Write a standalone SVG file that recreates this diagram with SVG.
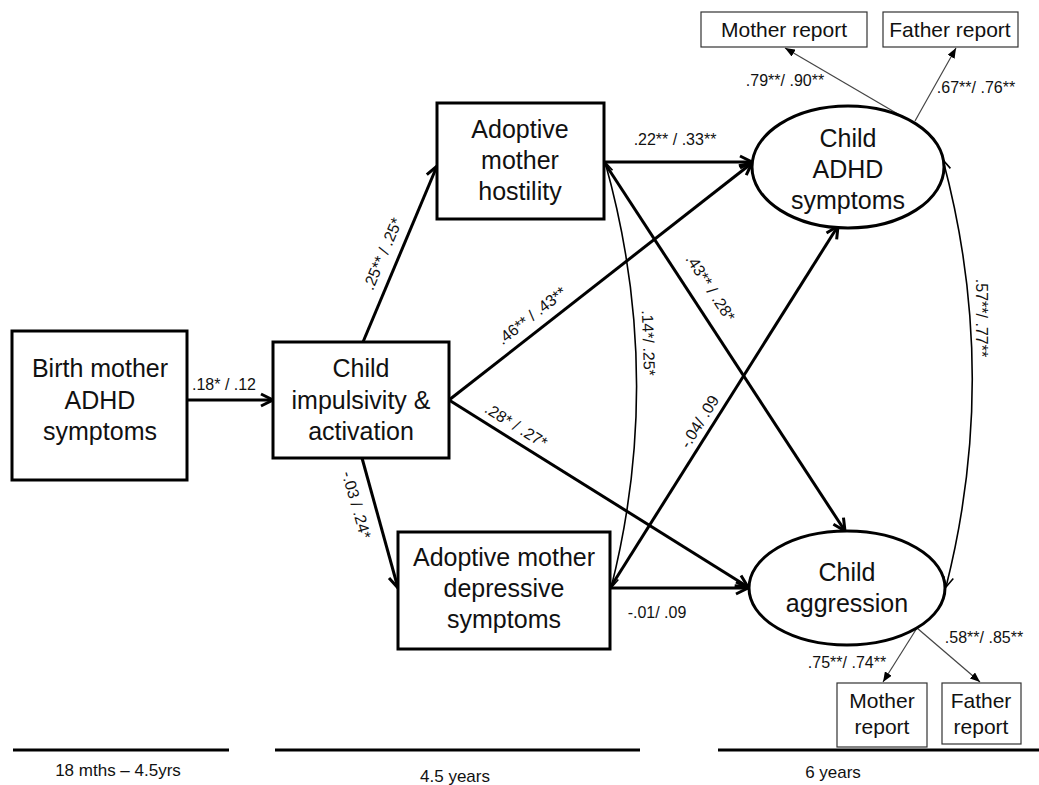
<svg xmlns="http://www.w3.org/2000/svg" width="1039" height="785" viewBox="0 0 1039 785">
<defs>
<style>
.box{fill:#fff;stroke:#000;stroke-width:3}
.rep{fill:#fff;stroke:#333;stroke-width:1.2}
.node{font-family:"Liberation Sans",Arial,sans-serif;font-size:25px;fill:#111;text-anchor:middle}
.rt{font-family:"Liberation Sans",Arial,sans-serif;font-size:21px;fill:#111;text-anchor:middle}
.lab{font-family:"Liberation Sans",Arial,sans-serif;font-size:16px;fill:#111;text-anchor:middle}
.tl{font-family:"Liberation Sans",Arial,sans-serif;font-size:17px;fill:#111;text-anchor:middle}
.arr{fill:none;stroke:#000;stroke-width:3;marker-end:url(#open)}
.cor{fill:none;stroke:#000;stroke-width:1.6;marker-start:url(#thin);marker-end:url(#thin)}
.ind{fill:none;stroke:#444;stroke-width:1.2;marker-end:url(#tri)}
</style>
<marker id="open" viewBox="0 0 14 14" markerWidth="14" markerHeight="14" refX="13" refY="7" orient="auto" markerUnits="userSpaceOnUse" overflow="visible">
<path d="M1,1 L13,7 L1,13" fill="none" stroke="#000" stroke-width="3"/>
</marker>
<marker id="thin" viewBox="0 0 12 12" markerWidth="12" markerHeight="12" refX="11" refY="6" orient="auto-start-reverse" markerUnits="userSpaceOnUse" overflow="visible">
<path d="M1,1 L11,6 L1,11" fill="none" stroke="#000" stroke-width="1.6"/>
</marker>
<marker id="tri" viewBox="0 0 10 8" markerWidth="10" markerHeight="8" refX="10" refY="4" orient="auto" markerUnits="userSpaceOnUse">
<path d="M0,0 L10,4 L0,8 Z" fill="#000"/>
</marker>
</defs>
<rect width="1039" height="785" fill="#fff"/>

<g id="connectors">
<path class="arr" d="M187,400 L273,400"/>
<path class="arr" d="M363,342 L437,166"/>
<path class="arr" d="M449,400 L752,163"/>
<path class="arr" d="M449,400 L748,587"/>
<path class="arr" d="M362,458 L398,588"/>
<path class="arr" d="M604,162 L752,162"/>
<path class="arr" d="M604,162 L845,531"/>
<path class="arr" d="M610,588 L838,226"/>
<path class="arr" d="M610,588 L748,588"/>
<path class="cor" d="M605,162 Q665,375 611,588"/>
<path class="cor" d="M943,160 Q1000,373 946,587"/>
<path class="ind" d="M903,117 L785,48"/>
<path class="ind" d="M915,121 L956,48"/>
<path class="ind" d="M917,628 L883,682"/>
<path class="ind" d="M917,628 L980,682"/>
</g>

<g id="labels">
<text class="lab" x="224" y="390">.18* / .12</text>
<text class="lab" transform="translate(383,254) rotate(-67)" dy="5">.25** / .25*</text>
<text class="lab" transform="translate(532,316) rotate(-38)" dy="5">.46** / .43**</text>
<text class="lab" transform="translate(516,426) rotate(32)" dy="5">.28* / .27*</text>
<text class="lab" transform="translate(356,505) rotate(74)" dy="5">-.03 / .24*</text>
<text class="lab" transform="translate(710,288) rotate(57)" dy="5">.43** / .28*</text>
<text class="lab" transform="translate(648,343) rotate(88)" dy="5">.14*/ .25*</text>
<text class="lab" transform="translate(700,422) rotate(-58)" dy="5">-.04/ .09</text>
<text class="lab" transform="translate(981,318) rotate(90)" dy="5">.57**/ .77**</text>
<text class="lab" x="675" y="145">.22** / .33**</text>
<text class="lab" x="657" y="618">-.01/ .09</text>
<text class="lab" x="785" y="86">.79**/ .90**</text>
<text class="lab" x="976" y="93">.67**/ .76**</text>
<text class="lab" x="847" y="668">.75**/ .74**</text>
<text class="lab" x="984" y="643">.58**/ .85**</text>
</g>

<g id="birth-mother">
<rect class="box" x="12" y="331" width="175" height="149"/>
<text class="node" x="100" y="377">Birth mother</text>
<text class="node" x="100" y="409">ADHD</text>
<text class="node" x="100" y="440">symptoms</text>
</g>
<g id="child-impulsivity">
<rect class="box" x="273" y="342" width="176" height="116"/>
<text class="node" x="361" y="377">Child</text>
<text class="node" x="361" y="409">impulsivity &amp;</text>
<text class="node" x="361" y="440">activation</text>
</g>
<g id="hostility">
<rect class="box" x="437" y="103" width="167" height="116"/>
<text class="node" x="520" y="138">Adoptive</text>
<text class="node" x="520" y="169">mother</text>
<text class="node" x="520" y="200">hostility</text>
</g>
<g id="depressive">
<rect class="box" x="398" y="532" width="212" height="117"/>
<text class="node" x="504" y="566">Adoptive mother</text>
<text class="node" x="504" y="597">depressive</text>
<text class="node" x="504" y="628">symptoms</text>
</g>
<g id="child-adhd">
<ellipse class="box" cx="848" cy="167" rx="96" ry="61"/>
<text class="node" x="848" y="147">Child</text>
<text class="node" x="848" y="178">ADHD</text>
<text class="node" x="848" y="209">symptoms</text>
</g>
<g id="child-aggression">
<ellipse class="box" cx="847" cy="588" rx="98" ry="57"/>
<text class="node" x="847" y="581">Child</text>
<text class="node" x="847" y="612">aggression</text>
</g>
<g id="adhd-mother-report">
<rect class="rep" x="701" y="12" width="166" height="35"/>
<text class="rt" x="784" y="37">Mother report</text>
</g>
<g id="adhd-father-report">
<rect class="rep" x="883" y="12" width="135" height="35"/>
<text class="rt" x="950" y="37">Father report</text>
</g>
<g id="agg-mother-report">
<rect class="rep" x="837" y="683" width="90" height="64"/>
<text class="rt" x="882" y="708">Mother</text>
<text class="rt" x="882" y="734">report</text>
</g>
<g id="agg-father-report">
<rect class="rep" x="942" y="683" width="79" height="61"/>
<text class="rt" x="981" y="708">Father</text>
<text class="rt" x="981" y="734">report</text>
</g>

<g id="timeline">
<line x1="13" y1="750" x2="229" y2="750" stroke="#000" stroke-width="3"/>
<line x1="275" y1="750" x2="640" y2="750" stroke="#000" stroke-width="3"/>
<line x1="718" y1="750" x2="1039" y2="750" stroke="#000" stroke-width="3"/>
<text class="tl" x="118" y="776">18 mths – 4.5yrs</text>
<text class="tl" x="455" y="782">4.5 years</text>
<text class="tl" x="833" y="778">6 years</text>
</g>
</svg>
